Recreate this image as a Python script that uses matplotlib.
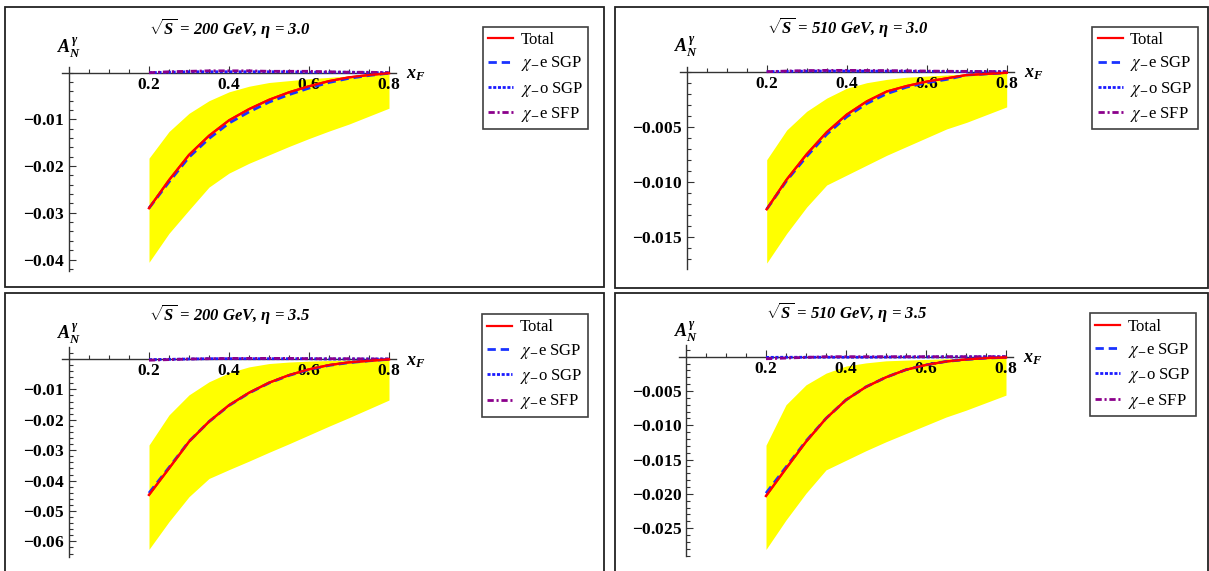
import numpy as np
from matplotlib import pyplot as plt
from matplotlib.patches import Rectangle
from matplotlib.ticker import FuncFormatter

plt.rcParams['font.family'] = ['Liberation Serif', 'DejaVu Serif']
plt.rcParams['mathtext.fontset'] = 'custom'
plt.rcParams['mathtext.rm'] = 'Liberation Serif:bold'
plt.rcParams['mathtext.it'] = 'Liberation Serif:bold:italic'
plt.rcParams['mathtext.bf'] = 'Liberation Serif:bold'
plt.rcParams['lines.scale_dashes'] = False

# x_F grid
xf = [0.2, 0.25, 0.3, 0.35, 0.4, 0.45, 0.5, 0.55, 0.6, 0.65, 0.7, 0.75, 0.8]

# sqrt(S) = 200 GeV, eta = 3.0
tot_200_30 = [-0.0290, -0.0230, -0.0176, -0.0135, -0.0102, -0.0078, -0.0058, -0.0042, -0.0029, -0.0018, -0.0010, -0.0005, -0.0001]
esgp_200_30 = [-0.0290, -0.0234, -0.0181, -0.0141, -0.0108, -0.0084, -0.0063, -0.0047, -0.0033, -0.0021, -0.0012, -0.0006, -0.0001]
osgp_200_30 = [0.0000, 0.0001, 0.0002, 0.0002, 0.0002, 0.0002, 0.0002, 0.0002, 0.0001, 0.0001, 0.0001, 0.0000, 0.0000]
esfp_200_30 = [0.0000, 0.0002, 0.0003, 0.0004, 0.0004, 0.0004, 0.0003, 0.0003, 0.0003, 0.0002, 0.0001, 0.0001, 0.0000]
up_200_30 = [-0.0183, -0.0126, -0.0087, -0.0060, -0.0041, -0.0029, -0.0021, -0.0017, -0.0013, -0.0010, -0.0007, -0.0005, -0.0003]
lo_200_30 = [-0.0406, -0.0344, -0.0294, -0.0245, -0.0215, -0.0194, -0.0176, -0.0158, -0.0141, -0.0125, -0.0110, -0.0093, -0.0076]

# sqrt(S) = 510 GeV, eta = 3.0
tot_510_30 = [-0.0125, -0.0098, -0.0075, -0.0055, -0.0039, -0.0027, -0.0018, -0.0013, -0.0009, -0.0006, -0.0003, -0.0002, -0.0001]
esgp_510_30 = [-0.0125, -0.0099, -0.0077, -0.0057, -0.0041, -0.0029, -0.0020, -0.0014, -0.0010, -0.0007, -0.0003, -0.0002, -0.0001]
osgp_510_30 = [0.0, 0.00003, 0.00005, 0.00006, 0.00006, 0.00005, 0.00005, 0.00004, 0.00003, 0.00002, 0.00001, 0.0, 0.0]
esfp_510_30 = [0.0, 0.00006, 0.0001, 0.00012, 0.00012, 0.00011, 0.0001, 0.00008, 0.00006, 0.00004, 0.00003, 0.00002, 0.0]
up_510_30 = [-0.0080, -0.0053, -0.0036, -0.0024, -0.0015, -0.0010, -0.0007, -0.0005, -0.0004, -0.0003, -0.0002, -0.00015, -0.0001]
lo_510_30 = [-0.0174, -0.0147, -0.0123, -0.0103, -0.0094, -0.0085, -0.0076, -0.0068, -0.0060, -0.0052, -0.0046, -0.0039, -0.0032]

# sqrt(S) = 200 GeV, eta = 3.5
tot_200_35 = [-0.0447, -0.0360, -0.0272, -0.0206, -0.0152, -0.0111, -0.0078, -0.0053, -0.0034, -0.0020, -0.0011, -0.0006, -0.0001]
esgp_200_35 = [-0.0441, -0.0357, -0.0271, -0.0206, -0.0153, -0.0112, -0.0079, -0.0054, -0.0035, -0.0021, -0.0012, -0.0006, -0.0001]
osgp_200_35 = [-0.0002, -0.0001, 0.0, 0.0001, 0.0001, 0.0001, 0.0001, 0.0001, 0.0001, 0.0, 0.0, 0.0, 0.0]
esfp_200_35 = [-0.0004, -0.0002, 0.0, 0.0001, 0.0002, 0.0002, 0.0002, 0.0002, 0.0001, 0.0001, 0.0001, 0.0, 0.0]
up_200_35 = [-0.0283, -0.0184, -0.0118, -0.0075, -0.0045, -0.0026, -0.0015, -0.0010, -0.0007, -0.0005, -0.0003, -0.0002, -0.0001]
lo_200_35 = [-0.0626, -0.0535, -0.0453, -0.0393, -0.0364, -0.0336, -0.0307, -0.0279, -0.0250, -0.0221, -0.0193, -0.0164, -0.0135]

# sqrt(S) = 510 GeV, eta = 3.5
tot_510_35 = [-0.0203, -0.0163, -0.0124, -0.0090, -0.0063, -0.0044, -0.0030, -0.0019, -0.0012, -0.0007, -0.0004, -0.0002, -0.0001]
esgp_510_35 = [-0.0199, -0.0161, -0.0123, -0.0090, -0.0063, -0.0044, -0.0030, -0.0019, -0.0012, -0.0007, -0.0004, -0.0002, -0.0001]
osgp_510_35 = [-0.0001, -0.00008, -0.00008, -0.00008, -0.00008, -0.00008, -0.00006, -0.00005, -0.00004, -0.00003, -0.00002, -0.00001, 0.0]
esfp_510_35 = [-0.0003, -0.0002, -0.0001, 0.0, 0.0, 0.0, 0.0, 0.0, 0.0, 0.0, 0.0, 0.0, 0.0]
up_510_35 = [-0.0129, -0.0070, -0.0041, -0.0024, -0.00136, -0.0009, -0.0006, -0.0005, -0.0004, -0.0003, -0.0002, -0.00015, -0.0001]
lo_510_35 = [-0.0281, -0.0238, -0.0199, -0.0165, -0.0151, -0.0137, -0.0124, -0.0112, -0.0100, -0.0088, -0.0078, -0.0067, -0.0056]

labels = ['Total', r'$\chi_{-}$e SGP', r'$\chi_{-}$o SGP', r'$\chi_{-}$e SFP']

W, H = 1209, 571
fig = plt.figure(figsize=(W / 100, H / 100), dpi=100)

# outer frames of the four sub-figures (pixels)
for (x0, y0, x1, y1) in [(5, 7, 604, 286.7), (615, 7, 1207.5, 287.5),
                         (5, 293.3, 604, 580), (615, 293.3, 1207.5, 580)]:
    fig.add_artist(Rectangle((x0 / W, 1 - y1 / H), (x1 - x0) / W, (y1 - y0) / H,
                             transform=fig.transFigure, fill=False,
                             edgecolor='#222222', linewidth=1.3))

styles = [dict(color='#ff0000', lw=1.6, ls='-'),
          dict(color='#1a33ff', lw=2.0, dashes=(6, 3.5)),
          dict(color='#1a1aff', lw=2.0, dashes=(2.2, 1.2)),
          dict(color='#8b008b', lw=2.0, dashes=(4.5, 2, 1.5, 2))]


def panel(ox, oy, ysc, ylim, yaxis, ymaj, ymin, fmt, title, data, leg_xy):
    xlim = (-0.03, 0.9)
    left = ox + xlim[0] * 400
    right = ox + xlim[1] * 400
    top = oy - ylim[1] * ysc
    bot = oy - ylim[0] * ysc
    ax = fig.add_axes([left / W, 1 - bot / H, (right - left) / W, (bot - top) / H])
    ax.set_xlim(xlim)
    ax.set_ylim(ylim)
    ax.patch.set_alpha(0)

    tot, esgp, osgp, esfp, up, lo = data
    ax.fill_between(xf, lo, up, color='#ffff00', lw=0, zorder=1)
    hs = []
    for y, st in zip([tot, esgp, osgp, esfp], styles):
        h, = ax.plot(xf, y, zorder=4, **st)
        hs.append(h)
    # total drawn again so it sits on the dashed one, like the original
    ax.plot(xf, tot, zorder=5, **styles[0])

    for s in ['top', 'right']:
        ax.spines[s].set_visible(False)
    ax.spines['left'].set_position(('data', 0))
    ax.spines['bottom'].set_position(('data', 0))
    ax.spines['left'].set_bounds(yaxis[0], yaxis[1])
    ax.spines['bottom'].set_bounds(-0.017, 0.818)
    for s in ['left', 'bottom']:
        ax.spines[s].set_color('#333333')
        ax.spines[s].set_linewidth(1.0)
        ax.spines[s].set_zorder(3)

    ax.set_xticks([0.2, 0.4, 0.6, 0.8])
    ax.set_xticks(np.arange(0.05, 0.81, 0.05), minor=True)
    ax.set_yticks(ymaj)
    ax.set_yticks(ymin, minor=True)
    # mathtext rm is Liberation Serif bold, so the tick numbers come out bold
    ax.xaxis.set_major_formatter(FuncFormatter(lambda v, p: '$%.1f$' % v))
    ax.yaxis.set_major_formatter(FuncFormatter(lambda v, p: '$' + fmt % v + '$'))
    ax.tick_params(which='both', direction='in', color='#333333', width=0.8)
    ax.tick_params(which='major', length=5, labelsize=12.5, pad=3)
    ax.tick_params(which='minor', length=3)

    ax.text(0.868, -2.0 / ysc, r'$x_F$', fontsize=13, ha='center', va='center')
    fig.text(ox / W, 1 - (oy - 25) / H, r'$A_N^\gamma$', fontsize=13,
             ha='center', va='center')
    fig.text((ox + 161) / W, 1 - (oy - 45) / H, title, fontsize=12, fontweight='bold',
             fontstyle='italic', ha='center', va='center')

    leg = ax.legend(hs, labels, loc='upper left', bbox_to_anchor=(leg_xy[0] / W, 1 - leg_xy[1] / H),
                    bbox_transform=fig.transFigure, borderaxespad=0, fontsize=12,
                    fancybox=False, framealpha=1, edgecolor='#404040',
                    borderpad=0.32, labelspacing=0.38, handlelength=1.5, handletextpad=0.45)
    leg.get_frame().set_linewidth(1.2)
    for t in leg.get_texts():
        t.set_math_fontfamily('stix')
    return ax


panel(69, 72.7, 4670, (-0.045, 0.003), (-0.0424, 0.0013),
      [-0.04, -0.03, -0.02, -0.01], np.arange(-0.042, 0.0011, 0.002), '%.2f',
      r'$\sqrt{S}$ = 200 GeV, $\eta$ = 3.0',
      [tot_200_30, esgp_200_30, osgp_200_30, esfp_200_30, up_200_30, lo_200_30], (482.7, 26.7))

panel(686.7, 71.7, 11000, (-0.019, 0.0012), (-0.0179, 0.00045),
      [-0.015, -0.010, -0.005], np.arange(-0.017, 0.0001, 0.001), '%.3f',
      r'$\sqrt{S}$ = 510 GeV, $\eta$ = 3.0',
      [tot_510_30, esgp_510_30, osgp_510_30, esfp_510_30, up_510_30, lo_510_30], (1092.4, 26.7))

panel(69, 359, 3040, (-0.068, 0.005), (-0.065, 0.004),
      [-0.06, -0.05, -0.04, -0.03, -0.02, -0.01], np.arange(-0.064, 0.0031, 0.002), '%.2f',
      r'$\sqrt{S}$ = 200 GeV, $\eta$ = 3.5',
      [tot_200_35, esgp_200_35, osgp_200_35, esfp_200_35, up_200_35, lo_200_35], (482, 314))

panel(686, 356.7, 6860, (-0.0305, 0.0022), (-0.0291, 0.0017),
      [-0.025, -0.020, -0.015, -0.010, -0.005], np.arange(-0.029, 0.0011, 0.001), '%.3f',
      r'$\sqrt{S}$ = 510 GeV, $\eta$ = 3.5',
      [tot_510_35, esgp_510_35, osgp_510_35, esfp_510_35, up_510_35, lo_510_35], (1090, 313.3))

fig.savefig('out.png', dpi=100)
